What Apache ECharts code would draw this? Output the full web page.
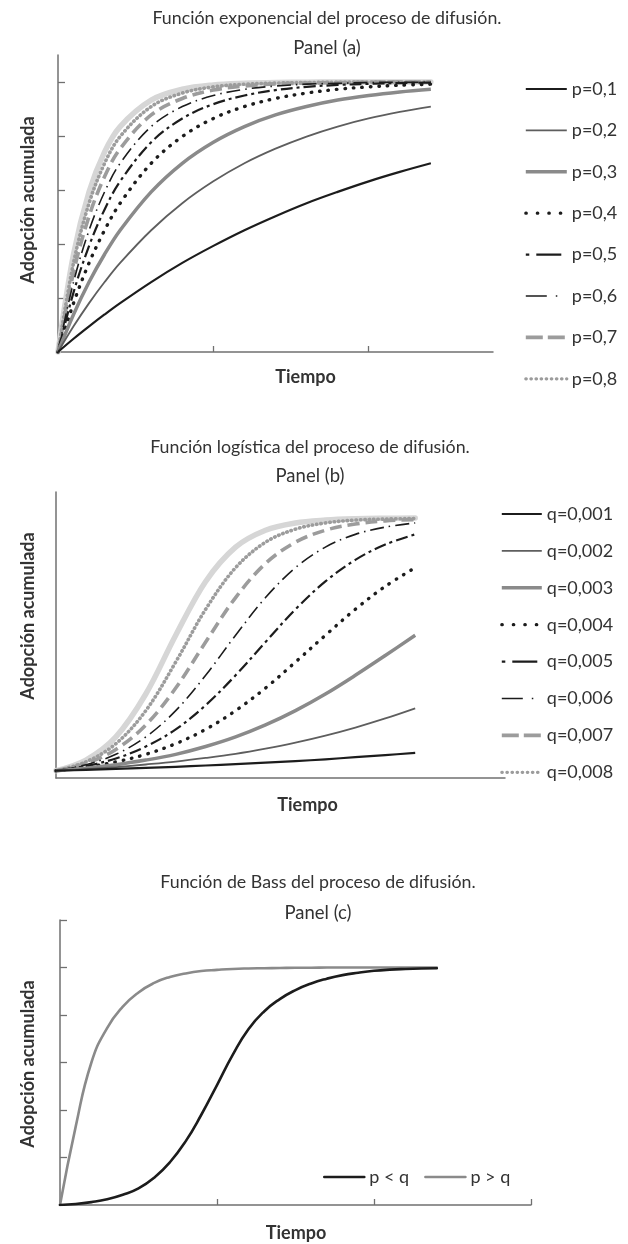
<!DOCTYPE html>
<html>
<head>
<meta charset="utf-8">
<script src="https://cdn.jsdelivr.net/npm/echarts/dist/echarts.min.js"></script>
<style>
html,body{margin:0;padding:0;background:#fff;}
#main{width:628px;height:1244px;}
</style>
</head>
<body>
<div id="main"></div>
<script>
// ---------- DATA ----------
// Panel (a): exponential diffusion, time points and cumulative adoption
const timeA = [0, 0.5, 1, 1.5, 2, 3, 4, 5, 6, 7, 8, 9, 10, 11, 12];
const expP01 = [0, .049, .095, .139, .181, .259, .330, .393, .451, .503, .551, .593, .632, .667, .699];
const expP02 = [0, .095, .181, .259, .330, .451, .551, .632, .699, .753, .798, .835, .865, .889, .909];
const expP03 = [0, .139, .259, .362, .451, .593, .699, .777, .835, .878, .909, .933, .950, .963, .973];
const expP04 = [0, .181, .330, .451, .551, .699, .798, .865, .909, .939, .959, .973, .982, .988, .992];
const expP05 = [0, .221, .393, .528, .632, .777, .865, .918, .950, .970, .982, .989, .993, .996, .998];
const expP06 = [0, .259, .451, .593, .699, .835, .909, .950, .973, .985, .992, .995, .998, .999, .999];
const expP07 = [0, .295, .503, .650, .753, .878, .939, .970, .985, .993, .996, .998, .999, 1, 1];
const expP08 = [0, .330, .551, .699, .798, .909, .959, .982, .992, .996, .998, .999, 1, 1, 1];
const expP09 = [0, .362, .593, .741, .835, .933, .973, .989, .995, .998, .999, 1, 1, 1, 1];
const namesA = ['p=0,1', 'p=0,2', 'p=0,3', 'p=0,4', 'p=0,5', 'p=0,6', 'p=0,7', 'p=0,8'];
const extraNameA = 'p=0,9';

// Panel (b): logistic diffusion
const timeB = [0, 1, 2, 3, 4, 5, 6, 7, 8, 9, 10, 11, 12];
const logQ1 = [.028, .031, .035, .039, .043, .048, .053, .059, .065, .072, .080, .088, .097];
const logQ2 = [.028, .034, .042, .052, .063, .077, .093, .113, .136, .163, .194, .229, .268];
const logQ3 = [.028, .038, .051, .069, .091, .121, .158, .204, .259, .323, .395, .471, .549];
const logQ4 = [.028, .042, .062, .091, .132, .187, .259, .346, .446, .549, .649, .737, .809];
const logQ5 = [.028, .046, .075, .121, .187, .280, .395, .523, .649, .756, .839, .898, .937];
const logQ6 = [.028, .051, .091, .158, .259, .395, .549, .694, .809, .888, .937, .965, .981];
const logQ7 = [.028, .056, .110, .204, .346, .523, .694, .825, .907, .953, .977, .989, .994];
const logQ8 = [.028, .062, .132, .259, .446, .649, .809, .907, .957, .981, .992, .996, .998];
const logQ9 = [.028, .069, .158, .323, .549, .756, .888, .953, .981, .992, .997, .999, 1];
const namesB = ['q=0,001', 'q=0,002', 'q=0,003', 'q=0,004', 'q=0,005', 'q=0,006', 'q=0,007', 'q=0,008'];
const extraNameB = 'q=0,009';

// Panel (c): Bass diffusion
const timeC = [0, 1, 2, 3, 4, 5, 6, 7, 8, 9, 10, 11, 12, 13, 14, 15, 16, 17, 18, 19, 20, 21, 22, 23, 24];
const bassPless = [0, .004, .012, .024, .043, .070, .115, .18, .268, .38, .505, .632, .74, .815, .867, .905, .933, .953, .968, .978, .986, .991, .994, .996, .997];
const bassPmore = [0, .33, .60, .745, .835, .895, .935, .96, .975, .985, .99, .994, .996, .997, .998, .999, .999, 1, 1, 1, 1, 1, 1, 1, 1];
const namesC = ['p < q', 'p > q'];

// Text
const titlesA = ['Función exponencial del proceso de difusión.', 'Panel (a)'];
const titlesB = ['Función logística del proceso de difusión.', 'Panel (b)'];
const titlesC = ['Función de Bass del proceso de difusión.', 'Panel (c)'];
const xName = 'Tiempo';
const yName = 'Adopción acumulada';

// ---------- STYLES ----------
const FONT = 'Lato, "Noto Sans", sans-serif';
const BLACK = '#1c1c1c', DGRAY = '#5e5e5e', MGRAY = '#8a8a8a', LGRAY = '#9c9c9c', XGRAY = '#d6d6d6';
const AXIS = '#707070';

const curveStyles = [
  {color: BLACK, width: 2.2, type: 'solid', cap: 'butt'},
  {color: DGRAY, width: 1.8, type: 'solid', cap: 'butt'},
  {color: MGRAY, width: 3.5, type: 'solid', cap: 'butt'},
  {color: BLACK, width: 3.4, type: [0.5, 8], cap: 'round'},
  {color: BLACK, width: 2.2, type: [3, 4, 12, 4], cap: 'butt'},
  {color: BLACK, width: 1.6, type: [14, 5, 1.5, 5], cap: 'butt'},
  {color: LGRAY, width: 3.6, type: [12, 6], cap: 'butt'},
  {color: LGRAY, width: 3.6, type: [0.5, 3.9], cap: 'round'}
];
const legendStyles = [
  {width: 2.2, type: 'solid', cap: 'butt'},
  {width: 1.8, type: 'solid', cap: 'butt'},
  {width: 3.5, type: 'solid', cap: 'butt'},
  {width: 3.2, type: [0.5, 11], cap: 'round'},
  {width: 2.2, type: [3.5, 7, 25, 20], cap: 'butt'},
  {width: 1.6, type: [21, 9, 1.5, 30], cap: 'butt'},
  {width: 3.6, type: [17, 5], cap: 'butt'},
  {width: 3.2, type: [0.5, 4.6], cap: 'round'}
];
const extraStyle = {color: XGRAY, width: 5.5, type: 'solid', cap: 'round'};

function pairs(ts, vs) { return ts.map((t, i) => [t, vs[i]]); }

function mkSeries(name, ts, vs, st, idx, z, sm) {
  return {
    name: name, type: 'line', xAxisIndex: idx, yAxisIndex: idx,
    data: pairs(ts, vs), smooth: sm || 0.35, symbol: 'none', showSymbol: false,
    z: z, silent: true, emphasis: {disabled: true},
    lineStyle: {color: st.color, width: st.width, type: st.type, cap: st.cap, join: 'round'},
    itemStyle: {color: st.color}
  };
}

const valsA = [expP01, expP02, expP03, expP04, expP05, expP06, expP07, expP08];
const valsB = [logQ1, logQ2, logQ3, logQ4, logQ5, logQ6, logQ7, logQ8];

const series = [];
series.push(mkSeries(extraNameA, timeA, expP09, extraStyle, 0, 1));
valsA.forEach((v, i) => series.push(mkSeries(namesA[i], timeA, v, curveStyles[i], 0, 2 + (7 - i))));
series.push(mkSeries(extraNameB, timeB, logQ9, extraStyle, 1, 1));
valsB.forEach((v, i) => series.push(mkSeries(namesB[i], timeB, v, curveStyles[i], 1, 2 + (7 - i))));
series.push(mkSeries(namesC[0], timeC, bassPless, {color: BLACK, width: 2.6, type: 'solid', cap: 'round'}, 2, 3, 0.5));
series.push(mkSeries(namesC[1], timeC, bassPmore, {color: MGRAY, width: 2.6, type: 'solid', cap: 'round'}, 2, 2, 0.5));

const axisLine = {show: true, onZero: false, lineStyle: {color: AXIS, width: 1.5}};
const tickStyle = {lineStyle: {color: AXIS, width: 1.3}};

const legendText = {fontFamily: FONT, fontSize: 18, color: '#333', lineHeight: 20};
const legendItemStyle = {opacity: 0, borderWidth: 0};
function legendData(names) {
  return names.map((n, i) => ({name: n, lineStyle: Object.assign({}, legendStyles[i])}));
}

function txt(x, y, text, size, weight, rot) {
  return {
    type: 'text', x: x, y: y, rotation: rot || 0, silent: true,
    style: {text: text, fontFamily: FONT, fontSize: size, fontWeight: weight || 'normal',
            fill: '#333', align: 'center', verticalAlign: 'middle'}
  };
}

const option = {
  animation: false,
  backgroundColor: '#fff',
  grid: [
    {left: 58, top: 55, width: 435, height: 297},
    {left: 56, top: 492, width: 449, height: 286},
    {left: 60, top: 920, width: 471, height: 285}
  ],
  xAxis: [
    {gridIndex: 0, type: 'value', min: 0, max: 14, interval: 5,
     axisLine: axisLine, splitLine: {show: false}, axisLabel: {show: false},
     axisTick: Object.assign({show: true, inside: true, length: 6, customValues: [5, 10]}, tickStyle)},
    {gridIndex: 1, type: 'value', min: 0, max: 15, interval: 5,
     axisLine: axisLine, splitLine: {show: false}, axisLabel: {show: false}, axisTick: {show: false}},
    {gridIndex: 2, type: 'value', min: 0, max: 30, interval: 10,
     axisLine: axisLine, splitLine: {show: false}, axisLabel: {show: false},
     axisTick: Object.assign({show: true, inside: true, length: 6, customValues: [10, 20, 30]}, tickStyle)}
  ],
  yAxis: [
    {gridIndex: 0, type: 'value', min: 0, max: 1.1, interval: 0.2,
     axisLine: axisLine, splitLine: {show: false}, axisLabel: {show: false},
     axisTick: Object.assign({show: true, inside: true, length: 7, customValues: [0.2, 0.4, 0.6, 0.8, 1.0]}, tickStyle)},
    {gridIndex: 1, type: 'value', min: 0, max: 1.1, interval: 0.2,
     axisLine: axisLine, splitLine: {show: false}, axisLabel: {show: false}, axisTick: {show: false}},
    {gridIndex: 2, type: 'value', min: 0, max: 1.2, interval: 0.2,
     axisLine: axisLine, splitLine: {show: false}, axisLabel: {show: false},
     axisTick: Object.assign({show: true, inside: true, length: 7, customValues: [0.2, 0.4, 0.6, 0.8, 1.0, 1.2]}, tickStyle)}
  ],
  legend: [
    {orient: 'vertical', left: 519, top: 74, itemWidth: 41, itemHeight: 14, itemGap: 21.4,
     selectedMode: false, textStyle: legendText, lineStyle: {width: 'inherit'}, itemStyle: legendItemStyle,
     data: legendData(namesA)},
    {orient: 'vertical', left: 495, top: 499, itemWidth: 40, itemHeight: 14, itemGap: 16.9,
     selectedMode: false, textStyle: legendText, lineStyle: {width: 'inherit'}, itemStyle: legendItemStyle,
     data: legendData(namesB)},
    {orient: 'horizontal', left: 318, top: 1162, itemWidth: 40, itemHeight: 14, itemGap: 15,
     selectedMode: false, textStyle: legendText, lineStyle: {width: 'inherit'}, itemStyle: legendItemStyle,
     data: [{name: namesC[0], lineStyle: {width: 2.6, type: 'solid'}}, {name: namesC[1], lineStyle: {width: 2.6, type: 'solid'}}]}
  ],
  graphic: [
    txt(327, 18.5, titlesA[0], 17.8), txt(327, 48.5, titlesA[1], 18.5),
    txt(310, 447, titlesB[0], 17.8), txt(310, 476, titlesB[1], 18.5),
    txt(318, 882, titlesC[0], 17.8), txt(318, 913, titlesC[1], 18.5),
    txt(305.5, 377, xName, 18, 'bold'), txt(307.5, 805, xName, 18, 'bold'), txt(296, 1233, xName, 18, 'bold'),
    txt(28.5, 200, yName, 18, 'bold', Math.PI / 2),
    txt(28.5, 616, yName, 18, 'bold', Math.PI / 2),
    txt(28.5, 1064, yName, 18, 'bold', Math.PI / 2)
  ],
  series: series
};

const chart = echarts.init(document.getElementById('main'), null, {renderer: 'canvas'});
chart.setOption(option);
</script>
</body>
</html>
